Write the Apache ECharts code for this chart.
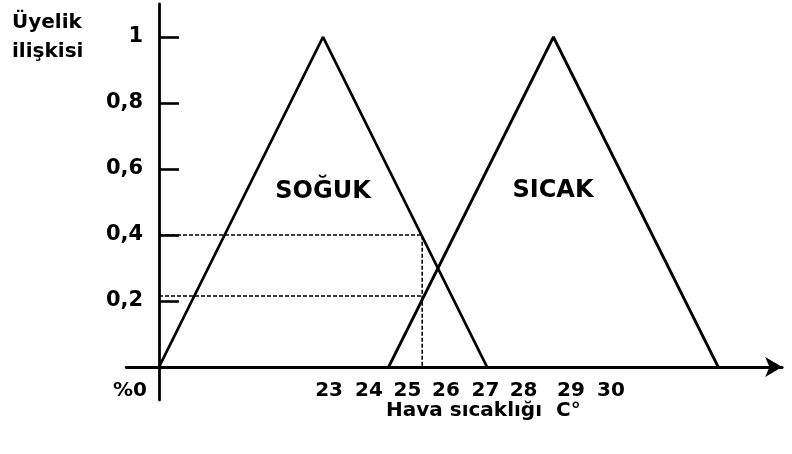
<!DOCTYPE html>
<html>
<head>
<meta charset="utf-8">
<script src="https://cdn.jsdelivr.net/npm/echarts@6/dist/echarts.min.js"></script>
<style>
html,body{margin:0;padding:0;background:#fff;}
#c{width:792px;height:454px;}
</style>
</head>
<body>
<div id="c"></div>
<script>
// Membership functions (x in abstract axis units, y = membership degree)
const sogukX = [0, 10, 20];
const sogukY = [0, 1, 0];
const sicakX = [14, 24.05, 34.1];
const sicakY = [0, 1, 0];
// Reading lines (dashed)
const readX = 16.05;
const readHigh = 0.4;
const readLow = 0.215;
// Tick labels
const xTickPos = [-1.77, 10.37, 12.80, 15.15, 17.50, 19.91, 22.23, 25.12, 27.56];
const xTickLabels = ['%0', '23', '24', '25', '26', '27', '28', '29', '30'];
const yTickPos = [0.2, 0.4, 0.6, 0.8, 1];
const yTickLabels = ['0,2', '0,4', '0,6', '0,8', '1'];
const setLabels = ['SOĞUK', 'SICAK'];
const yTitle = 'Üyelik\nilişkisi';
const xTitle = 'Hava sıcaklığı  C°';

const FONT = '"DejaVu Sans", sans-serif';
const chart = echarts.init(document.getElementById('c'), null, {renderer: 'canvas'});

function pairs(xs, ys) { return xs.map((x, i) => [x, ys[i]]); }
function lookup(pos, labels, v) {
  const i = pos.findIndex(p => Math.abs(p - v) < 1e-6);
  return i >= 0 ? labels[i] : '';
}

const solid = {color: '#000', width: 2.8};
const dashed = {color: '#000', width: 1.6, type: [4, 2]};

chart.setOption({
  animation: false,
  backgroundColor: '#fff',
  grid: {left: 126.2, right: 9.8, top: 4, bottom: 54, containLabel: false},
  xAxis: {
    type: 'value', min: -2, max: 38,
    axisLine: {show: true, onZero: true, symbol: ['none', 'arrow'], symbolSize: [15, 17],
      lineStyle: {color: '#000', width: 2.8}},
    axisTick: {show: false},
    splitLine: {show: false},
    axisLabel: {
      customValues: xTickPos,
      formatter: v => lookup(xTickPos, xTickLabels, v),
      color: '#000', fontFamily: FONT, fontWeight: 'bold', fontSize: 20, margin: -19
    }
  },
  yAxis: {
    type: 'value', min: -0.1, max: 1.1,
    axisLine: {show: true, onZero: true, lineStyle: {color: '#000', width: 2.8}},
    axisTick: {show: true, inside: true, length: 20, customValues: yTickPos,
      lineStyle: {color: '#000', width: 2.6}},
    splitLine: {show: false},
    axisLabel: {
      customValues: yTickPos,
      formatter: v => lookup(yTickPos, yTickLabels, v),
      color: '#000', fontFamily: FONT, fontWeight: 'bold', fontSize: 21, margin: -17
    }
  },
  series: [
    {type: 'line', name: setLabels[0], data: pairs(sogukX, sogukY), symbol: 'none', lineStyle: solid, silent: true},
    {type: 'line', name: setLabels[1], data: pairs(sicakX, sicakY), symbol: 'none', lineStyle: solid, silent: true},
    {type: 'line', data: [[0, readHigh], [readX, readHigh], [readX, 0]], symbol: 'none', lineStyle: dashed, silent: true},
    {type: 'line', data: [[0, readLow], [readX, readLow]], symbol: 'none', lineStyle: dashed, silent: true}
  ],
  graphic: [
    {type: 'text', x: 323, y: 192, style: {text: setLabels[0], font: 'bold 24px ' + FONT, fill: '#000', align: 'center', verticalAlign: 'middle'}},
    {type: 'text', x: 553, y: 191, style: {text: setLabels[1], font: 'bold 24px ' + FONT, fill: '#000', align: 'center', verticalAlign: 'middle'}},
    {type: 'text', x: 12, y: 8, style: {text: yTitle, font: 'bold 20px ' + FONT, fill: '#000', align: 'left', verticalAlign: 'top', lineHeight: 29}},
    {type: 'text', x: 386, y: 411, style: {text: xTitle, font: 'bold 20px ' + FONT, fill: '#000', align: 'left', verticalAlign: 'middle'}}
  ]
});
</script>
</body>
</html>
